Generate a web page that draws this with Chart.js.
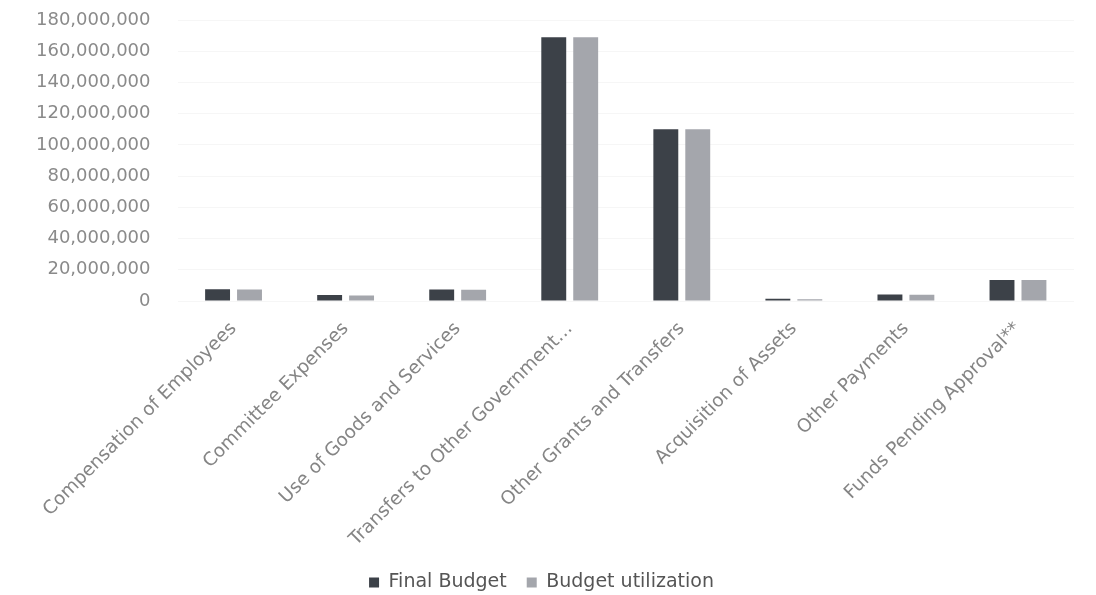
<!DOCTYPE html>
<html>
<head>
<meta charset="utf-8">
<script src="https://cdn.jsdelivr.net/npm/chart.js@4.4.1/dist/chart.umd.min.js"></script>
<style>
    html, body { margin: 0; padding: 0; background: #fff; }
    #wrap { width: 1096px; height: 595px; position: relative; }
</style>
</head>
<body>
<div id="wrap"><canvas id="budgetChart"></canvas></div>
<script>
const categories = [
    "Compensation of Employees",
    "Committee Expenses",
    "Use of Goods and Services",
    "Transfers to Other Government…",
    "Other Grants and Transfers",
    "Acquisition of Assets",
    "Other Payments",
    "Funds Pending Approval**"
];
const finalBudget = [7600000, 3800000, 7400000, 169000000, 110000000, 1500000, 4200000, 13500000];
const budgetUtilization = [7400000, 3500000, 7200000, 169000000, 110000000, 1200000, 4000000, 13500000];
const yTicks = { min: 0, max: 180000000, step: 20000000 };

const ctx = document.getElementById("budgetChart");

new Chart(ctx, {
    type: "bar",
    data: {
        labels: categories,
        datasets: [
            {
                label: "Final Budget",
                data: finalBudget,
                backgroundColor: "#3c4148",
                barPercentage: 0.78,
                categoryPercentage: 0.57
            },
            {
                label: "Budget utilization",
                data: budgetUtilization,
                backgroundColor: "#a4a6ac",
                barPercentage: 0.78,
                categoryPercentage: 0.57
            }
        ]
    },
    options: {
        responsive: true,
        maintainAspectRatio: false,
        animation: false,
        layout: { padding: { top: 20, left: 9, right: 22, bottom: -7 } },
        plugins: {
            legend: {
                position: "bottom",
                labels: {
                    boxWidth: 10,
                    boxHeight: 10,
                    padding: 20,
                    color: "#555",
                    font: { family: "DejaVu Sans", size: 19 }
                }
            },
            tooltip: { enabled: false }
        },
        scales: {
            y: {
                min: yTicks.min,
                max: yTicks.max,
                border: { display: false },
                grid: { color: "#f6f6f6", drawTicks: false },
                afterFit: scale => {
                    // let the top tick sit right at the layout padding
                    scale.paddingTop = 0;
                    scale.paddingBottom = 0;
                },
                ticks: {
                    stepSize: yTicks.step,
                    padding: 27,
                    color: "#8a8a8a",
                    font: { family: "DejaVu Sans", size: 18 },
                    callback: v => v.toLocaleString("en-US")
                }
            },
            x: {
                border: { display: false },
                grid: { display: false },
                afterFit: scale => {
                    // rotated labels may hang into the y axis area
                    scale.paddingLeft = 0;
                    scale.paddingRight = 0;
                    scale.height = 252;
                },
                ticks: {
                    minRotation: 45,
                    maxRotation: 45,
                    padding: 9,
                    color: "#858585",
                    font: { family: "DejaVu Sans", size: 18.5 }
                }
            }
        }
    }
});
</script>
</body>
</html>
